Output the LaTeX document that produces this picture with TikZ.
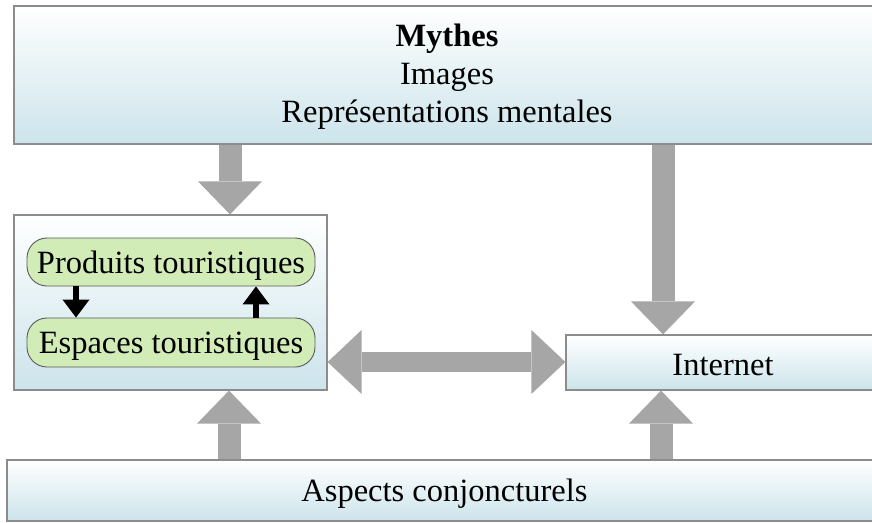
\documentclass[tikz,border=0pt]{standalone}
\usepackage{fontspec}
\setmainfont{Liberation Serif}
\usetikzlibrary{arrows.meta}
\definecolor{boxblue}{RGB}{204,228,235}
\definecolor{boxline}{RGB}{140,140,140}
\definecolor{greenfill}{RGB}{210,236,184}
\definecolor{greenline}{RGB}{90,90,90}
\definecolor{arrowgray}{RGB}{166,166,166}
\newcommand{\lowertext}[2]{\raisebox{-#1}[\height][\depth]{#2}}
\tikzset{
  bluebox/.style={draw=boxline, line width=1.2pt, top color=white, bottom color=boxblue,
    inner sep=0pt, font=\fontsize{32.5}{38}\selectfont, align=center},
  greenbox/.style={draw=greenline, line width=0.9pt, fill=greenfill, rounded corners=20pt,
    inner sep=0pt, minimum width=288pt, font=\fontsize{32.5}{38}\selectfont},
  fat/.style={draw=arrowgray, line width=23pt,
    -{Triangle[width=64pt,length=33pt,line width=0pt]}},
  fatboth/.style={draw=arrowgray, line width=20pt,
    {Triangle[width=64pt,length=34pt,line width=0pt]}-{Triangle[width=64pt,length=34pt,line width=0pt]}},
  thin/.style={draw=black, line width=5.5pt,
    -{Triangle[width=27pt,length=18pt,line width=0pt]}}
}
\begin{document}
\begin{tikzpicture}[x=1pt,y=-1pt]
\useasboundingbox (0,0) rectangle (872,522);
% boxes
\node[bluebox, minimum width=862pt, minimum height=138pt] (top) at (445,75) {};
\node[align=center, inner sep=0pt, font=\fontsize{32.5}{38}\selectfont] (toptext) at (447,77)
  {\textbf{Mythes}\\Images\\Représentations mentales};
\node[bluebox, minimum width=313pt, minimum height=175pt] (left) at (170.5,302.5) {};
\node[bluebox, minimum width=310pt, minimum height=55pt] (inet) at (721,362.5) {\hspace*{4pt}\lowertext{3pt}{Internet}};
\node[bluebox, minimum width=869pt, minimum height=61pt] (bottom) at (441.5,490.5) {\hspace*{6pt}\lowertext{3pt}{Aspects conjoncturels}};
\node[greenbox, minimum height=48pt] (prod) at (171,262) {\lowertext{4pt}{Produits touristiques}};
\node[greenbox, minimum height=49pt] (esp) at (171,342.5) {\lowertext{4pt}{Espaces touristiques}};
% black arrows
\draw[thin] (prod.south -| 76,0) -- (esp.north -| 76,0);
\draw[thin] (esp.north -| 256,0) -- (prod.south -| 256,0);
% gray block arrows
\draw[fat] (top.south -| 230,0) -- (left.north -| 230,0);
\draw[fat] (top.south -| 663,0) -- (inet.north -| 663,0);
\draw[fatboth] (left.east |- 0,362) -- (inet.west |- 0,362);
\draw[fat] (bottom.north -| 229,0) -- (left.south -| 229,0);
\draw[fat] (bottom.north -| 661,0) -- (inet.south -| 661,0);
\end{tikzpicture}
\end{document}
